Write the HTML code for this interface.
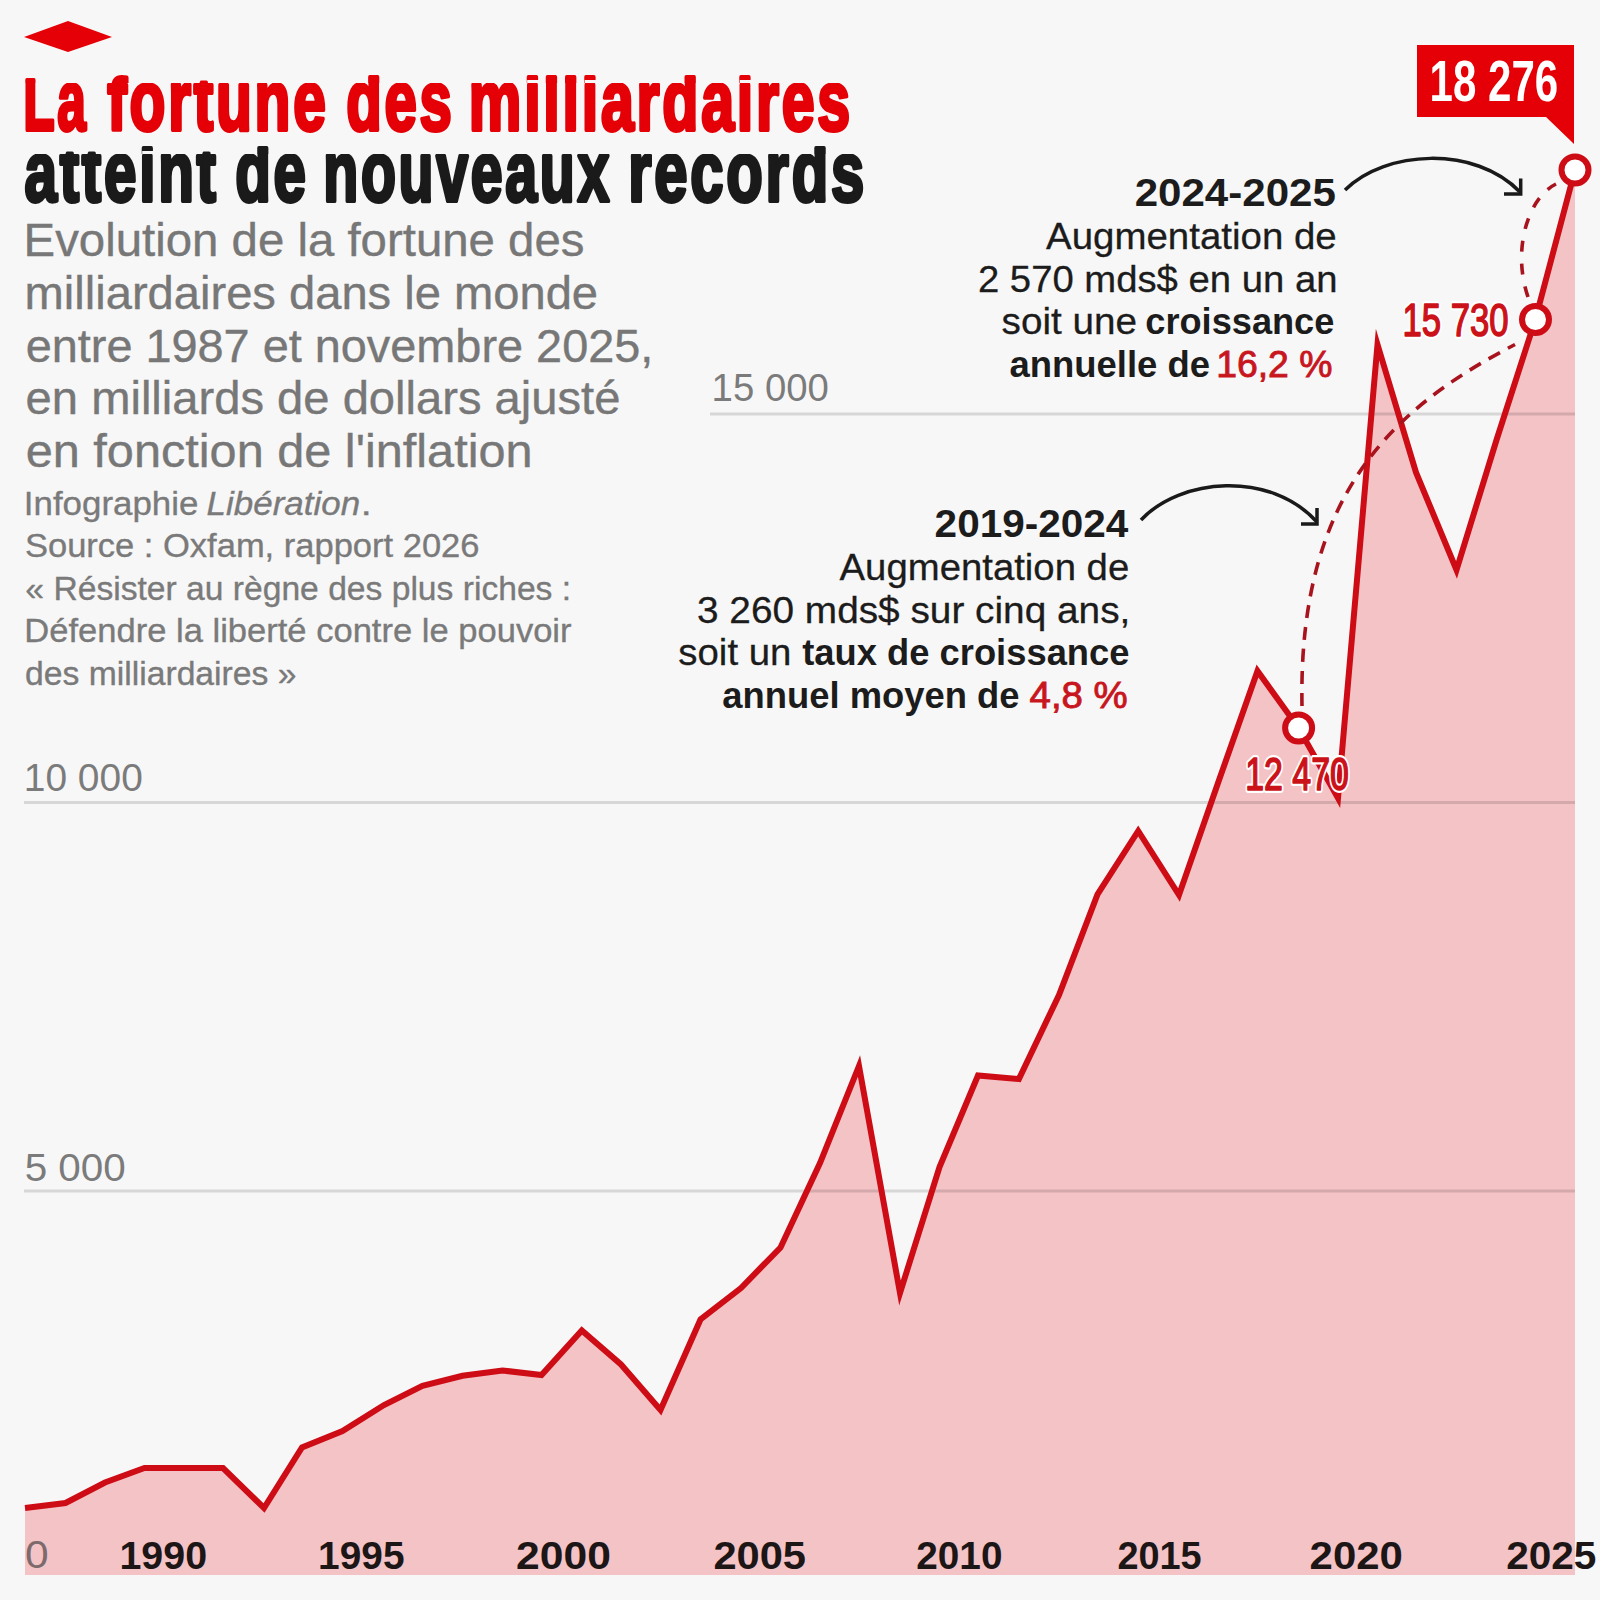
<!DOCTYPE html>
<html><head><meta charset="utf-8">
<style>
html,body{margin:0;padding:0;background:#f7f7f7;}
body{width:1600px;height:1600px;overflow:hidden;}
svg{display:block;font-family:"Liberation Sans",sans-serif;}
.t1r{font-weight:700;font-size:86px;letter-spacing:4px;fill:#e40006;stroke:#e40006;stroke-width:4px;stroke-linejoin:round;}
.t1b{font-weight:700;font-size:86px;letter-spacing:4px;fill:#1a1a1a;stroke:#1a1a1a;stroke-width:4px;stroke-linejoin:round;}
.sub{font-size:46.5px;fill:#777777;stroke:#777777;stroke-width:0.4px;}
.src{font-size:33px;fill:#7a7a7a;stroke:#7a7a7a;stroke-width:0.35px;}
.srci{font-size:33px;fill:#7a7a7a;font-style:italic;stroke:#7a7a7a;stroke-width:0.35px;}
.an{font-size:37.5px;fill:#1c1c1c;stroke:#1c1c1c;stroke-width:0.3px;}
.anb{font-size:37.5px;fill:#1c1c1c;font-weight:700;}
.anh{font-size:39px;fill:#1c1c1c;font-weight:700;}
.anr{font-size:37.5px;fill:#c8161e;stroke:#c8161e;stroke-width:0.9px;}
.yl{font-size:38px;fill:#7b7b7b;}
.yl0{font-size:38px;fill:#7d6a6b;}
.xl{font-size:38px;fill:#1c1616;font-weight:700;}
.val{font-size:46px;font-weight:400;fill:#cc1219;stroke:#cc1219;stroke-width:1.6px;stroke-linejoin:round;}
.valh{font-size:46px;font-weight:400;fill:#fff;stroke:#fff;stroke-width:6px;stroke-linejoin:round;}
.callt{font-size:57.5px;font-weight:700;fill:#fff;}
.tB{font-size:73px !important;letter-spacing:3.395px !important;}

</style></head><body>
<svg width="1600" height="1600" viewBox="0 0 1600 1600">
<rect width="1600" height="1600" fill="#f7f7f7"/>
<polygon points="24,37 68,21 112,37 68,52" fill="#e40006"/>
<polygon id="area" fill="#f4c3c6" points="25.0,1508.0 65.5,1503.0 105.0,1482.5 144.5,1468.0 184.0,1468.0 223.0,1468.0 264.0,1508.0 302.0,1447.5 342.5,1431.0 384.0,1405.0 422.5,1385.8 462.5,1375.8 502.5,1370.5 541.5,1375.0 581.8,1330.5 621.0,1364.5 660.5,1410.0 700.5,1319.5 741.0,1288.0 780.5,1247.5 820.0,1163.0 859.0,1066.0 900.0,1293.0 939.5,1167.0 978.0,1075.5 1018.9,1079.0 1059.0,995.0 1097.5,894.4 1138.2,831.0 1179.0,895.0 1218.0,783.0 1257.5,671.0 1298.6,728.0 1338.0,798.0 1377.5,344.5 1416.0,472.4 1456.5,570.0 1496.5,440.0 1535.5,319.0 1575.0,170.0 1575,1575 25,1575"/>
<g stroke="#000" stroke-opacity="0.13" stroke-width="3">
<line x1="710" y1="414" x2="1575" y2="414"/>
<line x1="24" y1="802.5" x2="1575" y2="802.5"/>
<line x1="24" y1="1191" x2="1575" y2="1191"/>
</g>
<polyline fill="none" stroke="#cd0c16" stroke-width="6" stroke-linejoin="miter" stroke-miterlimit="10" points="25.0,1508.0 65.5,1503.0 105.0,1482.5 144.5,1468.0 184.0,1468.0 223.0,1468.0 264.0,1508.0 302.0,1447.5 342.5,1431.0 384.0,1405.0 422.5,1385.8 462.5,1375.8 502.5,1370.5 541.5,1375.0 581.8,1330.5 621.0,1364.5 660.5,1410.0 700.5,1319.5 741.0,1288.0 780.5,1247.5 820.0,1163.0 859.0,1066.0 900.0,1293.0 939.5,1167.0 978.0,1075.5 1018.9,1079.0 1059.0,995.0 1097.5,894.4 1138.2,831.0 1179.0,895.0 1218.0,783.0 1257.5,671.0 1298.6,728.0 1338.0,798.0 1377.5,344.5 1416.0,472.4 1456.5,570.0 1496.5,440.0 1535.5,319.0 1575.0,170.0"/>
<g fill="none" stroke="#a8141d" stroke-width="3.6" stroke-dasharray="13 9">
<path d="M1302,706 C1297.9,490.5 1396.6,406.3 1515,344.5"/>
<path d="M1528,297 C1511.3,248.2 1529.2,196.9 1556,184" stroke-dasharray="11 12"/>
</g>
<g fill="none" stroke="#1a1a1a" stroke-width="3.5">
<path d="M1141,520 C1180,478 1270,470 1317,522"/>
<path d="M1317,508 L1317,524 L1301,524"/>
<path d="M1345,190 C1385,150 1475,145 1520,192"/>
<path d="M1520.7,178.5 L1520.7,194 L1504,194"/>
</g>
<g fill="#fff" stroke="#cd0c16" stroke-width="6">
<circle cx="1298.6" cy="728" r="13.5"/>
<circle cx="1535.5" cy="319.5" r="13.5"/>
<circle cx="1575" cy="170" r="13.5"/>
</g>
<polygon points="1417,45 1574,45 1574,144 1546,117 1417,117" fill="#e40006"/>
<clipPath id="cAt1a"><rect x="0" y="83" width="1000" height="100"/></clipPath>
<clipPath id="cBt1a"><rect x="0" y="43" width="1000" height="40"/></clipPath>
<text id="t1a" class="t1r" x="23.35" y="129.5" textLength="64.90" lengthAdjust="spacingAndGlyphs" clip-path="url(#cAt1a)">La</text>
<text id="t1aB" class="t1r tB" x="23.35" y="129.5" textLength="64.90" lengthAdjust="spacingAndGlyphs" clip-path="url(#cBt1a)">La</text>
<clipPath id="cAt1b"><rect x="0" y="83" width="1000" height="100"/></clipPath>
<clipPath id="cBt1b"><rect x="0" y="43" width="1000" height="40"/></clipPath>
<text id="t1b" class="t1r" x="107.25" y="129.5" textLength="221.37" lengthAdjust="spacingAndGlyphs" clip-path="url(#cAt1b)">fortune</text>
<text id="t1bB" class="t1r tB" x="107.25" y="129.5" textLength="221.37" lengthAdjust="spacingAndGlyphs" clip-path="url(#cBt1b)">fortune</text>
<clipPath id="cAt1c"><rect x="0" y="83" width="1000" height="100"/></clipPath>
<clipPath id="cBt1c"><rect x="0" y="43" width="1000" height="40"/></clipPath>
<text id="t1c" class="t1r" x="346.24" y="129.5" textLength="108.27" lengthAdjust="spacingAndGlyphs" clip-path="url(#cAt1c)">des</text>
<text id="t1cB" class="t1r tB" x="346.24" y="129.5" textLength="108.27" lengthAdjust="spacingAndGlyphs" clip-path="url(#cBt1c)">des</text>
<clipPath id="cAt1d"><rect x="0" y="83" width="1000" height="100"/></clipPath>
<clipPath id="cBt1d"><rect x="0" y="43" width="1000" height="40"/></clipPath>
<text id="t1d" class="t1r" x="468.85" y="129.5" textLength="384.15" lengthAdjust="spacingAndGlyphs" clip-path="url(#cAt1d)">milliardaires</text>
<text id="t1dB" class="t1r tB" x="468.85" y="129.5" textLength="384.15" lengthAdjust="spacingAndGlyphs" clip-path="url(#cBt1d)">milliardaires</text>
<rect x="527.15" y="80" width="13.06" height="3" fill="#f7f7f7"/>
<rect x="584.69" y="80" width="13.06" height="3" fill="#f7f7f7"/>
<rect x="739.79" y="80" width="13.06" height="3" fill="#f7f7f7"/>
<clipPath id="cAt2a"><rect x="0" y="154" width="1000" height="100"/></clipPath>
<clipPath id="cBt2a"><rect x="0" y="114" width="1000" height="40"/></clipPath>
<text id="t2a" class="t1b" x="24.49" y="201" textLength="194.27" lengthAdjust="spacingAndGlyphs" clip-path="url(#cAt2a)">atteint</text>
<text id="t2aB" class="t1b tB" x="24.49" y="201" textLength="194.27" lengthAdjust="spacingAndGlyphs" clip-path="url(#cBt2a)">atteint</text>
<rect x="142.19" y="151" width="12.94" height="3" fill="#f7f7f7"/>
<clipPath id="cAt2b"><rect x="0" y="154" width="1000" height="100"/></clipPath>
<clipPath id="cBt2b"><rect x="0" y="114" width="1000" height="40"/></clipPath>
<text id="t2b" class="t1b" x="235.24" y="201" textLength="73.49" lengthAdjust="spacingAndGlyphs" clip-path="url(#cAt2b)">de</text>
<text id="t2bB" class="t1b tB" x="235.24" y="201" textLength="73.49" lengthAdjust="spacingAndGlyphs" clip-path="url(#cBt2b)">de</text>
<clipPath id="cAt2c"><rect x="0" y="154" width="1000" height="100"/></clipPath>
<clipPath id="cBt2c"><rect x="0" y="114" width="1000" height="40"/></clipPath>
<text id="t2c" class="t1b" x="323.25" y="201" textLength="288.72" lengthAdjust="spacingAndGlyphs" clip-path="url(#cAt2c)">nouveaux</text>
<text id="t2cB" class="t1b tB" x="323.25" y="201" textLength="288.72" lengthAdjust="spacingAndGlyphs" clip-path="url(#cBt2c)">nouveaux</text>
<clipPath id="cAt2d"><rect x="0" y="154" width="1000" height="100"/></clipPath>
<clipPath id="cBt2d"><rect x="0" y="114" width="1000" height="40"/></clipPath>
<text id="t2d" class="t1b" x="628.14" y="201" textLength="238.86" lengthAdjust="spacingAndGlyphs" clip-path="url(#cAt2d)">records</text>
<text id="t2dB" class="t1b tB" x="628.14" y="201" textLength="238.86" lengthAdjust="spacingAndGlyphs" clip-path="url(#cBt2d)">records</text>
<text id="s1" class="sub" x="23.59" y="256" textLength="560.87" lengthAdjust="spacingAndGlyphs">Evolution de la fortune des</text>
<text id="s2" class="sub" x="24.59" y="308.8" textLength="573.50" lengthAdjust="spacingAndGlyphs">milliardaires dans le monde</text>
<text id="s3" class="sub" x="25.70" y="361.6" textLength="627.62" lengthAdjust="spacingAndGlyphs">entre 1987 et novembre 2025,</text>
<text id="s4" class="sub" x="25.63" y="414.2" textLength="594.76" lengthAdjust="spacingAndGlyphs">en milliards de dollars ajusté</text>
<text id="s5" class="sub" x="25.72" y="466.9" textLength="506.89" lengthAdjust="spacingAndGlyphs">en fonction de l&#x27;inflation</text>
<text id="r1a" class="src" x="23.81" y="514.7" textLength="174.56" lengthAdjust="spacingAndGlyphs">Infographie</text>
<text id="r1b" class="srci" x="206.54" y="514.7" textLength="153.58" lengthAdjust="spacingAndGlyphs">Libération</text>
<text id="r1c" class="src" x="360.74" y="514.7" textLength="10.92" lengthAdjust="spacingAndGlyphs">.</text>
<text id="r2" class="src" x="24.95" y="557" textLength="454.53" lengthAdjust="spacingAndGlyphs">Source : Oxfam, rapport 2026</text>
<text id="r3" class="src" x="25.39" y="599.8" textLength="545.71" lengthAdjust="spacingAndGlyphs">« Résister au règne des plus riches :</text>
<text id="r4" class="src" x="24.25" y="642.4" textLength="547.30" lengthAdjust="spacingAndGlyphs">Défendre la liberté contre le pouvoir</text>
<text id="r5" class="src" x="25.12" y="684.8" textLength="271.28" lengthAdjust="spacingAndGlyphs">des milliardaires »</text>
<text id="a1" class="anh" x="1134.65" y="206.3" textLength="201.21" lengthAdjust="spacingAndGlyphs">2024-2025</text>
<text id="a2" class="an" x="1046.04" y="248.75" textLength="290.73" lengthAdjust="spacingAndGlyphs">Augmentation de</text>
<text id="a3" class="an" x="977.94" y="291.5" textLength="359.56" lengthAdjust="spacingAndGlyphs">2 570 mds$ en un an</text>
<text id="a4" class="an" x="1001.61" y="334.3" textLength="135.40" lengthAdjust="spacingAndGlyphs">soit une</text>
<text id="a5" class="anb" x="1145.29" y="334.3" textLength="189.07" lengthAdjust="spacingAndGlyphs">croissance</text>
<text id="a6" class="anb" x="1009.41" y="377" textLength="200.65" lengthAdjust="spacingAndGlyphs">annuelle de</text>
<text id="a7" class="anr" x="1216.17" y="377" textLength="116.35" lengthAdjust="spacingAndGlyphs">16,2 %</text>
<text id="b1" class="anh" x="934.63" y="537.1" textLength="193.60" lengthAdjust="spacingAndGlyphs">2019-2024</text>
<text id="b2" class="an" x="839.57" y="579.8" textLength="289.65" lengthAdjust="spacingAndGlyphs">Augmentation de</text>
<text id="b3" class="an" x="697.03" y="622.6" textLength="433.31" lengthAdjust="spacingAndGlyphs">3 260 mds$ sur cinq ans,</text>
<text id="b4" class="an" x="678.33" y="665.4" textLength="113.12" lengthAdjust="spacingAndGlyphs">soit un</text>
<text id="b5" class="anb" x="802.23" y="665.4" textLength="327.28" lengthAdjust="spacingAndGlyphs">taux de croissance</text>
<text id="b6" class="anb" x="722.36" y="708.2" textLength="297.21" lengthAdjust="spacingAndGlyphs">annuel moyen de</text>
<text id="b7" class="anr" x="1029.61" y="708.2" textLength="98.11" lengthAdjust="spacingAndGlyphs">4,8 %</text>
<text id="y1" class="yl" x="711.63" y="401" textLength="117.31" lengthAdjust="spacingAndGlyphs">15 000</text>
<text id="y2" class="yl" x="23.78" y="791" textLength="119.01" lengthAdjust="spacingAndGlyphs">10 000</text>
<text id="y3" class="yl" x="24.67" y="1181" textLength="101.17" lengthAdjust="spacingAndGlyphs">5 000</text>
<text id="y4" class="yl0" x="24.90" y="1567.5" textLength="23.64" lengthAdjust="spacingAndGlyphs">0</text>
<text id="x1" class="xl" x="119.48" y="1568.75" textLength="87.57" lengthAdjust="spacingAndGlyphs">1990</text>
<text id="x2" class="xl" x="318.13" y="1568.75" textLength="86.38" lengthAdjust="spacingAndGlyphs">1995</text>
<text id="x3" class="xl" x="516.10" y="1568.75" textLength="94.82" lengthAdjust="spacingAndGlyphs">2000</text>
<text id="x4" class="xl" x="713.40" y="1568.75" textLength="92.65" lengthAdjust="spacingAndGlyphs">2005</text>
<text id="x5" class="xl" x="916.25" y="1568.75" textLength="86.21" lengthAdjust="spacingAndGlyphs">2010</text>
<text id="x6" class="xl" x="1117.38" y="1568.75" textLength="84.34" lengthAdjust="spacingAndGlyphs">2015</text>
<text id="x7" class="xl" x="1309.62" y="1568.75" textLength="93.29" lengthAdjust="spacingAndGlyphs">2020</text>
<text id="x8" class="xl" x="1506.15" y="1568.75" textLength="90.32" lengthAdjust="spacingAndGlyphs">2025</text>
<text class="valh" x="1245.23" y="789.8" textLength="103.64" lengthAdjust="spacingAndGlyphs">12 470</text>
<text id="v1" class="val" x="1245.23" y="789.8" textLength="103.64" lengthAdjust="spacingAndGlyphs">12 470</text>
<text class="valh" x="1402.57" y="335.6" textLength="105.94" lengthAdjust="spacingAndGlyphs">15 730</text>
<text id="v2" class="val" x="1402.57" y="335.6" textLength="105.94" lengthAdjust="spacingAndGlyphs">15 730</text>
<text id="v3" class="callt" x="1429.55" y="101" textLength="128.62" lengthAdjust="spacingAndGlyphs">18 276</text>

</svg>
</body></html>
